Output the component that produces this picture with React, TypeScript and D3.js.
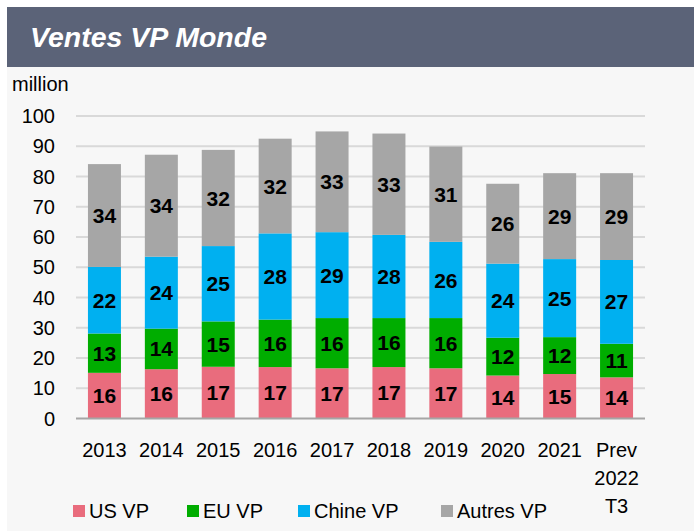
import React from "react";
import * as d3 from "d3";

const width = 694;
const height = 531;

const years = ["2013", "2014", "2015", "2016", "2017", "2018", "2019", "2020", "2021", "Prev 2022 T3"];
const seriesNames = ["US VP", "EU VP", "Chine VP", "Autres VP"];
const colors = ["#e96c7d", "#00ad00", "#00b0f0", "#a6a6a6"];

// bar heights
const usVP = [15.1, 16.3, 17.1, 17.0, 16.6, 17.0, 16.6, 14.2, 14.7, 13.6];
const euVP = [13.0, 13.4, 15.0, 15.7, 16.6, 16.2, 16.6, 12.5, 12.2, 11.1];
const chineVP = [22.0, 23.8, 24.9, 28.5, 28.4, 27.5, 25.2, 24.5, 25.8, 27.7];
const autresVP = [34.0, 33.7, 31.8, 31.3, 33.3, 33.5, 31.5, 26.4, 28.4, 28.7];

// data labels as printed
const usLabels = [16, 16, 17, 17, 17, 17, 17, 14, 15, 14];
const euLabels = [13, 14, 15, 16, 16, 16, 16, 12, 12, 11];
const chineLabels = [22, 24, 25, 28, 29, 28, 26, 24, 25, 27];
const autresLabels = [34, 34, 32, 32, 33, 33, 31, 26, 29, 29];

const yTicks = [0, 10, 20, 30, 40, 50, 60, 70, 80, 90, 100];

const plot = { left: 76, right: 645, top: 116, bottom: 418.5 };
const font = "'Liberation Sans', Arial, sans-serif";

export default function App() {
  const x = d3
    .scaleBand()
    .domain(years)
    .range([plot.left, plot.right])
    .paddingInner(0.42)
    .paddingOuter(0.21);
  const y = d3.scaleLinear().domain([0, 100]).range([plot.bottom, plot.top]);

  const rows = years.map((yr, i) => ({
    year: yr,
    s0: usVP[i],
    s1: euVP[i],
    s2: chineVP[i],
    s3: autresVP[i],
  }));
  const labels = [usLabels, euLabels, chineLabels, autresLabels];
  const stacked = d3.stack().keys(["s0", "s1", "s2", "s3"])(rows as any);

  return (
    <svg
      width={width}
      height={height}
      style={{ position: "absolute", left: 0, top: 0, display: "block" }}
      fontFamily={font}
    >
      <rect x={0} y={0} width={width} height={height} fill="#ffffff" />
      <rect x={7} y={7} width={width - 7} height={height - 7} fill="#f7f7f7" />
      <rect x={7} y={7} width={width - 7} height={60} fill="#5b6378" />
      <text
        x={30}
        y={47}
        fill="#ffffff"
        fontSize={28.5}
        fontWeight="bold"
        fontStyle="italic"
      >
        Ventes VP Monde
      </text>
      <text x={12} y={91} fontSize={20} fill="#000">
        million
      </text>

      {yTicks.map((t) => (
        <g key={t}>
          {t > 0 && (
            <line
              x1={plot.left}
              x2={plot.right}
              y1={y(t)}
              y2={y(t)}
              stroke="#d9d9d9"
              strokeWidth={2}
            />
          )}
          <text
            x={55}
            y={y(t)}
            dy="0.35em"
            textAnchor="end"
            fontSize={20}
            fill="#000"
          >
            {t}
          </text>
        </g>
      ))}

      {stacked.map((layer, si) =>
        layer.map((d, i) => (
          <rect
            key={`${si}-${i}`}
            x={x(years[i])}
            y={y(d[1])}
            width={x.bandwidth()}
            height={y(d[0]) - y(d[1])}
            fill={colors[si]}
          />
        ))
      )}

      {stacked.map((layer, si) =>
        layer.map((d, i) => (
          <text
            key={`l${si}-${i}`}
            x={(x(years[i]) as number) + x.bandwidth() / 2}
            y={y((d[0] + d[1]) / 2)}
            dy="0.36em"
            textAnchor="middle"
            fontSize={21}
            fontWeight="bold"
            fill="#000"
          >
            {labels[si][i]}
          </text>
        ))
      )}

      <line
        x1={plot.left}
        x2={plot.right}
        y1={y(0)}
        y2={y(0)}
        stroke="#a6a6a6"
        strokeWidth={2}
      />

      {years.map((yr) =>
        yr.split(" ").map((part, k) => (
          <text
            key={`${yr}-${k}`}
            x={(x(yr) as number) + x.bandwidth() / 2}
            y={450 + k * 28}
            dy="0.35em"
            textAnchor="middle"
            fontSize={20}
            fill="#000"
          >
            {part}
          </text>
        ))
      )}

      {seriesNames.map((name, i) => {
        const lx = [73, 187, 298, 441][i];
        return (
          <g key={name}>
            <rect x={lx} y={505} width={12} height={12} fill={colors[i]} />
            <text x={lx + 16} y={511} dy="0.35em" fontSize={20} fill="#000">
              {name}
            </text>
          </g>
        );
      })}
    </svg>
  );
}
